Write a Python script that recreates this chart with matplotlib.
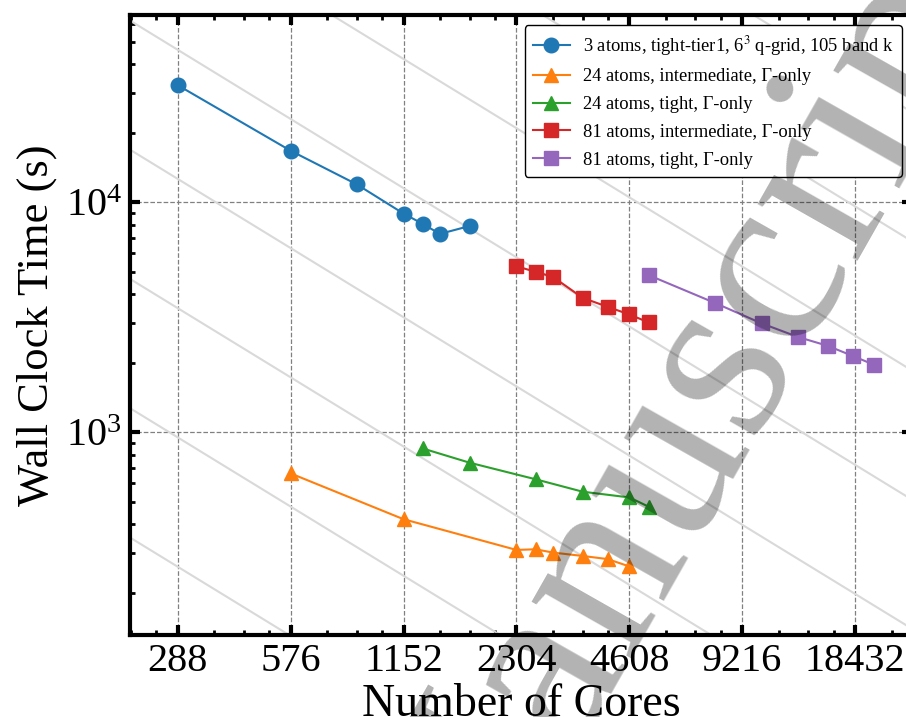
import numpy as np
import matplotlib
matplotlib.use("Agg")
import matplotlib.pyplot as plt
from matplotlib.ticker import FixedLocator, NullFormatter, LogLocator

plt.rcParams['font.family'] = ['Liberation Serif', 'DejaVu Serif']
plt.rcParams['mathtext.fontset'] = 'stix'

# Strong-scaling timings (wall clock seconds vs. number of cores)
cores_3at = [288, 576, 864, 1152, 1296, 1440, 1728]
time_3at = [32400, 16800, 12000, 8950, 8070, 7300, 7900]

cores_24_int = [576, 1152, 2304, 2592, 2880, 3456, 4032, 4608]
time_24_int = [663, 419, 308, 310, 300, 290, 281, 261]

cores_24_tight = [1296, 1728, 2592, 3456, 4608, 5184]
time_24_tight = [851, 738, 625, 552, 521, 475]

cores_81_int = [2304, 2592, 2880, 3456, 4032, 4608, 5184]
time_81_int = [5280, 4990, 4750, 3850, 3515, 3257, 3008]

cores_81_tight = [5184, 7776, 10368, 12960, 15552, 18144, 20736]
time_81_tight = [4830, 3660, 2980, 2600, 2380, 2150, 1964]

series_labels = [
    r"3 atoms, tight-tier1, 6$^3$ q-grid, 105 band k",
    "24 atoms, intermediate, Γ-only",
    "24 atoms, tight, Γ-only",
    "81 atoms, intermediate, Γ-only",
    "81 atoms, tight, Γ-only",
]

xtick_values = [288, 576, 1152, 2304, 4608, 9216, 18432]
xtick_labels = ["288", "576", "1152", "2304", "4608", "9216", "18432"]

# Ideal-scaling guide lines: time = const / cores
ideal_consts = [7.5e4, 2.74e5, 1.0e6, 3.65e6, 1.33e7, 4.85e7, 1.77e8, 6.45e8, 2.35e9]

fig = plt.figure(figsize=(9.06, 7.17), dpi=100)
ax = fig.add_axes([0.1438, 0.1144, 0.8628, 0.8643])

xlim = (215.4, 26100)
ylim = (131.4, 65220)

xs = np.geomspace(xlim[0], xlim[1], 50)
for c in ideal_consts:
    ax.plot(xs, c / xs, color='#d9d9d9', lw=1.5, zorder=1)

ms = 10.5
ax.plot(cores_3at, time_3at, marker='o', ms=ms, lw=1.5, color='C0', label=series_labels[0], zorder=3)
ax.plot(cores_24_int, time_24_int, marker='^', ms=ms, lw=1.5, color='C1', label=series_labels[1], zorder=3)
ax.plot(cores_24_tight, time_24_tight, marker='^', ms=ms, lw=1.5, color='C2', label=series_labels[2], zorder=3)
ax.plot(cores_81_int, time_81_int, marker='s', ms=ms, lw=1.5, color='C3', label=series_labels[3], zorder=3)
ax.plot(cores_81_tight, time_81_tight, marker='s', ms=ms, lw=1.5, color='C4', label=series_labels[4], zorder=3)

ax.set_xscale('log', base=2)
ax.set_yscale('log')
ax.set_xlim(*xlim)
ax.set_ylim(*ylim)

ax.xaxis.set_major_locator(FixedLocator(xtick_values))
ax.set_xticklabels(xtick_labels)
minor_x = [m * f for m in [144] + xtick_values for f in (1.25, 1.5, 1.75)]
ax.xaxis.set_minor_locator(FixedLocator(minor_x))
ax.xaxis.set_minor_formatter(NullFormatter())
ax.yaxis.set_major_locator(LogLocator(base=10))
ax.yaxis.set_minor_locator(LogLocator(base=10, subs=np.arange(2, 10)))
ax.yaxis.set_minor_formatter(NullFormatter())

ax.tick_params(which='both', direction='in', top=True, right=True)
ax.tick_params(which='major', length=7.5, width=3, labelsize=29, pad=6)
ax.tick_params(which='minor', length=3.5, width=2)

for s in ax.spines.values():
    s.set_linewidth(3)
ax.spines['right'].set_visible(False)

ax.grid(True, which='major', ls='--', color='gray', lw=0.9)
ax.set_axisbelow(True)

ax.set_xlabel("Number of Cores", fontsize=33, labelpad=2)
ax.set_ylabel("Wall Clock Time (s)", fontsize=32, labelpad=6)

leg = ax.legend(loc='upper right', fontsize=13.3, framealpha=1, edgecolor='black',
                fancybox=True, borderaxespad=0.55, labelspacing=0.58,
                handletextpad=0.7, borderpad=0.45)
leg.get_frame().set_linewidth(1.0)

fig.text(0.7624, 0.4130, "Manuscript", rotation=60.4, fontsize=180, color='black',
         alpha=0.3, ha='center', va='center', rotation_mode='anchor', zorder=100)

fig.savefig("out.png", dpi=100)
